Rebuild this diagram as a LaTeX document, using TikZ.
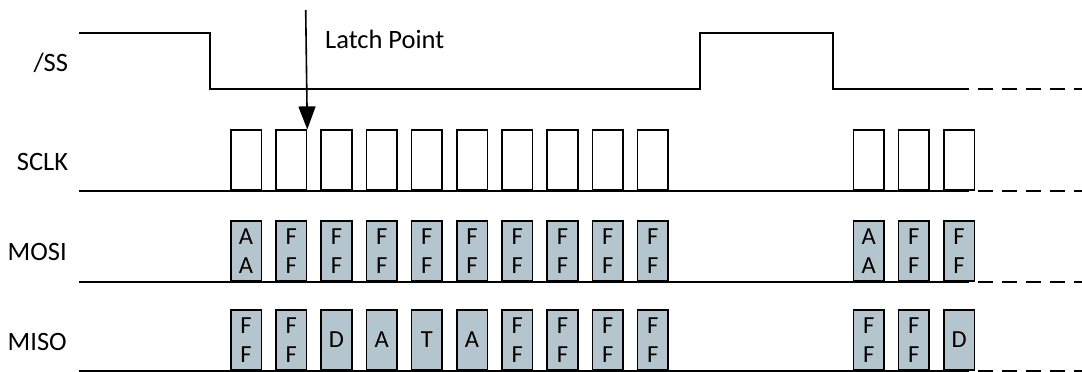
\documentclass[tikz,border=0pt]{standalone}
\usepackage{fontspec}
\setmainfont{Carlito}
\usetikzlibrary{arrows.meta}
\definecolor{boxfill}{RGB}{180,197,205}
\begin{document}
\begin{tikzpicture}[x=1pt,y=-1pt,
  wave/.style={line width=1.6pt, line join=miter},
  ext/.style={line width=1.6pt, dash pattern=on 15pt off 9pt},
  pulsebox/.style={draw, line width=1.6pt, minimum width=30.5pt, minimum height=60pt, inner sep=0pt, anchor=south west},
  databox/.style={pulsebox, fill=boxfill, font=\fontsize{24.5}{29}\selectfont, align=center},
  siglabel/.style={anchor=base east, font=\fontsize{26.5}{30}\selectfont, inner sep=0pt},
]
\useasboundingbox (0,0) rectangle (1082,372);

% signal labels
\node[siglabel] (lss) at (68.3,71) {/SS};
\node[siglabel] (lsclk) at (68.3,170.7) {SCLK};
\node[siglabel] (lmosi) at (67,260.7) {MOSI};
\node[siglabel] (lmiso) at (67,350) {MISO};

% /SS waveform
\draw[wave] (79,33) -- (210,33) -- (210,89) -- (700,89) -- (700,33) -- (833,33) -- (833,89) -- (954,89);
\draw[ext] (954,89) -- (1082,89);

% baselines
\draw[wave] (79,191) -- (954,191);
\draw[ext] (954,191) -- (1082,191);
\draw[wave] (79,282) -- (954,282);
\draw[ext] (954,282) -- (1082,282);
\draw[wave] (79,371) -- (954,371);
\draw[ext] (954,371) -- (1082,371);

% clock pulses, MOSI and MISO boxes
\foreach \i/\xx/\mo/\mi in {
  1/230/{A\\A}/{F\\F},
  2/275.2/{F\\F}/{F\\F},
  3/320.4/{F\\F}/D,
  4/365.6/{F\\F}/A,
  5/410.8/{F\\F}/T,
  6/456/{F\\F}/A,
  7/501.2/{F\\F}/{F\\F},
  8/546.4/{F\\F}/{F\\F},
  9/591.6/{F\\F}/{F\\F},
  10/636.8/{F\\F}/{F\\F},
  11/852.6/{A\\A}/{F\\F},
  12/897.8/{F\\F}/{F\\F},
  13/943/{F\\F}/D} {
  \node[pulsebox] (ck\i) at (\xx,191) {};
  \node[databox, minimum height=60.5pt] (mo\i) at (\xx,282) {\mo};
  \node[databox, minimum height=60.5pt] (mi\i) at (\xx,371) {\mi};
}

% latch point arrow
\coordinate (latchtop) at (305.7,10);
\draw[line width=1.6pt, -{Triangle[length=23pt,width=17pt]}] (latchtop) -- (ck2.north east);
\node[anchor=base west, font=\fontsize{26.5}{30}\selectfont, inner sep=0pt] (latchlabel) at (325,48.3) {Latch Point};

\end{tikzpicture}
\end{document}
